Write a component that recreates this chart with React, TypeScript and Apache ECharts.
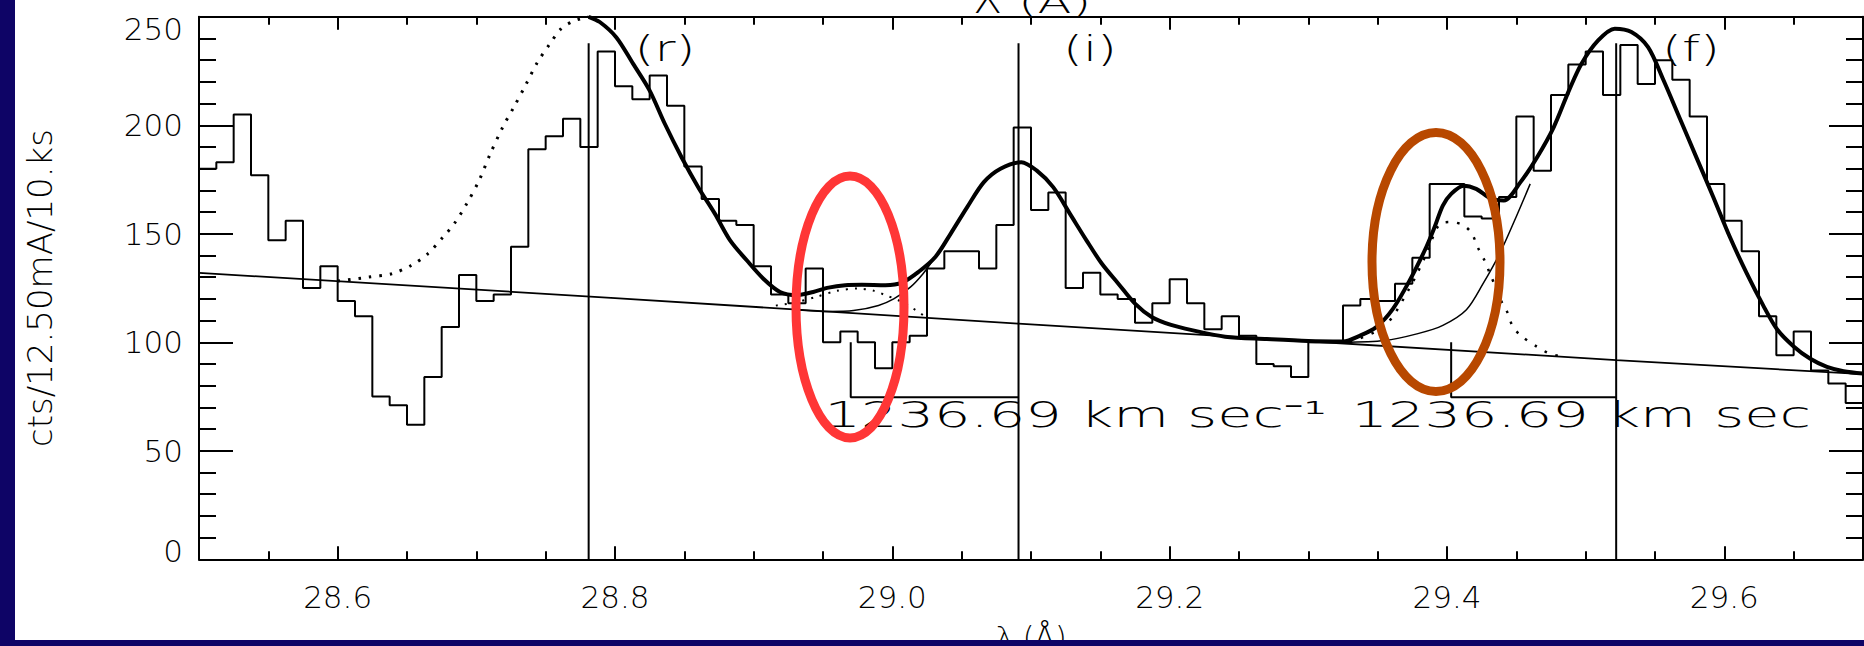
import React, { useEffect, useRef } from 'react';
import * as echarts from 'echarts';

const FONT = "'DejaVu Sans', 'Liberation Sans', sans-serif";
const LIGHT = 200;
const NAVY = '#0e0466';
const INK = '#000000';

// Histogram: 12.5 mÅ bins, first bin starts at the left edge of the axis
const BIN_START = 28.5;
const BIN_WIDTH = 0.0125;
const binCounts = [
  180, 183, 205, 177, 147, 156, 125, 135, 119, 112,
  75, 71, 62, 84, 107, 131, 119, 122, 144, 189,
  195, 203, 190, 234, 218, 212, 223, 209, 181, 166,
  156, 154, 135, 122, 118, 134, 100, 105, 100, 88,
  100, 103, 134, 142, 142, 134, 154, 199, 161, 169,
  125, 132, 122, 120, 109, 118, 129, 118, 106, 112,
  103, 90, 89, 84, 100, 100, 117, 120, 119, 127,
  139, 173, 173, 158, 157, 167, 204, 179, 214, 228,
  234, 214, 237, 219, 230, 221, 204, 173, 156, 142,
  112, 94, 105, 87, 81, 72,
];

// Continuum (thin straight line)
const continuumPoints = [
  [28.5, 132.0], [28.8, 120.4], [29.091, 108.6], [29.522, 91.8], [29.7, 85.3],
];

// Total model (thick curve)
const totalModel = [
  [28.781, 250.0], [28.789, 247.6], [28.801, 240.5], [28.813, 228.4], [28.825, 216.0],
  [28.836, 200.6], [28.848, 185.3], [28.860, 171.5], [28.872, 159.3], [28.883, 147.0],
  [28.895, 137.8], [28.907, 129.3], [28.919, 123.2], [28.931, 121.7], [28.943, 123.2],
  [28.954, 125.2], [28.966, 126.3], [28.978, 126.5], [28.995, 126.3], [29.007, 127.5],
  [29.019, 132.5], [29.031, 139.3], [29.042, 150.0], [29.054, 162.3], [29.066, 173.8],
  [29.078, 180.0], [29.093, 183.0], [29.104, 179.2], [29.116, 171.5], [29.128, 159.3],
  [29.140, 147.0], [29.151, 136.3], [29.163, 127.0], [29.175, 117.8], [29.187, 111.7],
  [29.201, 108.0], [29.216, 105.6], [29.240, 102.6], [29.270, 101.5], [29.300, 100.6],
  [29.325, 100.4], [29.337, 103.0], [29.349, 107.0], [29.361, 115.4], [29.373, 128.4],
  [29.385, 143.8], [29.391, 153.0], [29.397, 163.0], [29.403, 168.4], [29.412, 172.2],
  [29.421, 170.7], [29.432, 166.1], [29.441, 165.4], [29.453, 173.8], [29.465, 185.3],
  [29.477, 199.2], [29.488, 216.1], [29.497, 228.4], [29.509, 239.1], [29.521, 244.5],
  [29.533, 243.0], [29.545, 236.0], [29.556, 221.0], [29.568, 203.0], [29.580, 185.0],
  [29.592, 167.0], [29.604, 148.5], [29.616, 132.0], [29.628, 117.0], [29.638, 106.0],
  [29.650, 98.1], [29.662, 92.4], [29.674, 88.7], [29.686, 86.7], [29.700, 85.6],
];

// Resonance-line model outside the fitted range (dotted)
const rModelDotted = [
  [28.600, 128.2], [28.622, 130.0], [28.639, 131.6], [28.653, 135.4], [28.665, 140.8],
  [28.676, 148.5], [28.684, 154.6], [28.693, 163.8], [28.702, 174.6], [28.710, 186.8],
  [28.719, 199.1], [28.727, 208.3], [28.736, 219.1], [28.744, 229.0], [28.753, 237.5],
  [28.761, 244.4], [28.770, 248.0], [28.781, 250.0],
];

// Satellite component near 28.97 Å (dotted)
const satelliteDotted = [
  [28.916, 116.9], [28.931, 118.5], [28.945, 120.9], [28.960, 123.7], [28.975, 124.8],
  [28.987, 123.7], [28.995, 121.7], [29.004, 119.5], [29.013, 116.4], [29.022, 112.6],
];

// Intercombination-line wing (thin)
const iWingThin = [
  [28.930, 115.0], [28.954, 114.2], [28.972, 114.6], [28.990, 117.0], [29.001, 120.0],
  [29.013, 125.4], [29.022, 131.5], [29.030, 138.5],
];

// Forbidden-line wing (thin)
const fWingThin = [
  [29.325, 100.0], [29.355, 100.8], [29.379, 104.0], [29.397, 107.8], [29.414, 115.0],
  [29.426, 127.0], [29.438, 140.9], [29.450, 158.0], [29.460, 173.0],
];

// Blended component near 29.40 Å (dotted)
const blendDotted = [
  [29.330, 100.2], [29.355, 107.5], [29.373, 125.0], [29.385, 140.5], [29.395, 154.6],
  [29.403, 155.4], [29.412, 153.9], [29.418, 150.1], [29.422, 144.0], [29.427, 137.8],
  [29.431, 131.6], [29.435, 125.5], [29.440, 117.8], [29.444, 113.2], [29.447, 107.8],
  [29.453, 103.2], [29.465, 97.9], [29.474, 94.8], [29.483, 93.5],
];

// Line centres (r, i, f)
const lineCenters = [28.781, 29.091, 29.522];
const lineLabels = ['(r)', '(i)', '(f)'];
const LINE_TOP = 237.8;

// Velocity-shift brackets
const bracketStarts = [28.970, 29.403];
const bracketEnds = [29.091, 29.522];
const BRACKET_TOP = 100;
const BRACKET_LEVEL = 74.7;
const velocityTexts = ['1236.69 km sec\u207B\u00B9', '1236.69 km sec'];

const xTickLabel = (v: number) => v.toFixed(1);

function lineSeries(name: string, data: number[][], width: number, type: any = 'solid', z = 3, smooth: any = false) {
  return {
    type: 'line',
    name,
    data,
    symbol: 'none',
    showSymbol: false,
    smooth,
    silent: true,
    z,
    lineStyle: { color: INK, width, type },
    emphasis: { disabled: true },
  };
}

export default function App() {
  const ref = useRef<HTMLDivElement>(null);

  useEffect(() => {
    document.body.style.margin = '0';
    const el = ref.current;
    if (!el) return;
    const chart = echarts.init(el, null, { renderer: 'svg' });

    const histData = binCounts.map((v, k) => [BIN_START + k * BIN_WIDTH, v]);
    histData.push([BIN_START + binCounts.length * BIN_WIDTH, binCounts[binCounts.length - 1]]);

    const axisLine = { show: true, onZero: false, lineStyle: { color: INK, width: 2 } };
    const labelStyle = { fontFamily: FONT, fontSize: 31, fontWeight: LIGHT, color: INK };

    const xAxisBase = {
      type: 'value',
      min: 28.5,
      max: 29.7,
      splitNumber: 6,
      minInterval: 0.2,
      maxInterval: 0.2,
      axisLine,
      splitLine: { show: false },
      minorSplitLine: { show: false },
      axisTick: { show: true, inside: true, length: 13, lineStyle: { color: INK, width: 2 } },
      minorTick: { show: true, splitNumber: 4, length: 8, lineStyle: { color: INK, width: 2 } },
    };
    const yAxisBase = {
      type: 'value',
      min: 0,
      max: 250,
      interval: 50,
      axisLine,
      splitLine: { show: false },
      minorSplitLine: { show: false },
      axisTick: { show: true, inside: true, length: 34, lineStyle: { color: INK, width: 2 } },
      minorTick: { show: true, splitNumber: 5, length: 17, lineStyle: { color: INK, width: 2 } },
    };

    const series: any[] = [
      { ...lineSeries('counts', histData, 2, 'solid', 2), step: 'end' },
      lineSeries('continuum', continuumPoints, 1.8, 'solid', 3),
      lineSeries('i wing', iWingThin, 1.5, 'solid', 3, 0.3),
      lineSeries('f wing', fWingThin, 1.5, 'solid', 3, 0.3),
      lineSeries('r model', rModelDotted, 3, [2.5, 8], 4, 0.3),
      lineSeries('satellite', satelliteDotted, 2, [2, 7], 4, 0.3),
      lineSeries('blend', blendDotted, 2.5, [2.5, 9], 4, 0.3),
      lineSeries('total model', totalModel, 4, 'solid', 5, 0.3),
    ];
    lineCenters.forEach((x, i) => {
      series.push(lineSeries('centre ' + lineLabels[i], [[x, 0], [x, LINE_TOP]], 2, 'solid', 6));
    });
    bracketStarts.forEach((x0, i) => {
      series.push(
        lineSeries('shift ' + i, [[x0, BRACKET_TOP], [x0, BRACKET_LEVEL], [bracketEnds[i], BRACKET_LEVEL]], 2, 'solid', 6)
      );
    });

    const annoFont = (size: number) => ({ fontFamily: FONT, fontSize: size, fontWeight: LIGHT, fill: INK });

    const option: any = {
      animation: false,
      backgroundColor: '#ffffff',
      grid: { left: 184, right: 1, top: 16.8, bottom: 80.7, containLabel: false, outerBoundsMode: 'none' },
      xAxis: [
        {
          ...xAxisBase,
          position: 'bottom',
          axisLabel: {
            show: true, margin: 22, ...labelStyle,
            showMinLabel: false, showMaxLabel: false,
            formatter: xTickLabel,
          },
          name: 'λ (Å)',
          nameLocation: 'middle',
          nameGap: 78,
          nameMoveOverlap: false,
          nameTextStyle: { fontFamily: FONT, fontSize: 30, fontWeight: LIGHT, color: INK, verticalAlign: 'middle' },
        },
        { ...xAxisBase, position: 'top', axisLabel: { show: false } },
      ],
      yAxis: [
        {
          ...yAxisBase,
          position: 'left',
          axisLabel: {
            show: true, margin: 16, ...labelStyle,
            formatter: (v: number) => (v === 0 ? '{lo|0}' : v === 250 ? '{hi|250}' : String(v)),
            rich: {
              lo: { ...labelStyle, padding: [0, 0, 16, 0] },
              hi: { ...labelStyle, padding: [24, 0, 0, 0] },
            },
          },
          name: 'cts/12.50mA/10.ks',
          nameLocation: 'middle',
          nameRotate: 90,
          nameGap: 142,
          nameMoveOverlap: false,
          nameTextStyle: { fontFamily: FONT, fontSize: 34, fontWeight: LIGHT, color: INK },
        },
        { ...yAxisBase, position: 'right', axisLabel: { show: false } },
      ],
      series,
      graphic: [
        { type: 'ellipse', shape: { cx: 835, cy: 307, rx: 54, ry: 131 }, style: { fill: 'none', stroke: '#ff3636', lineWidth: 9 }, z: 100, silent: true },
        { type: 'ellipse', shape: { cx: 1421, cy: 262, rx: 64, ry: 129.5 }, style: { fill: 'none', stroke: '#b84800', lineWidth: 9 }, z: 100, silent: true },
        { type: 'text', x: 650, y: 49, scaleX: 1.46, style: { ...annoFont(35), text: lineLabels[0], align: 'center', verticalAlign: 'middle' }, z: 50, silent: true },
        { type: 'text', x: 1075, y: 49, scaleX: 1.46, style: { ...annoFont(35), text: lineLabels[1], align: 'center', verticalAlign: 'middle' }, z: 50, silent: true },
        { type: 'text', x: 1676, y: 49, scaleX: 1.46, style: { ...annoFont(35), text: lineLabels[2], align: 'center', verticalAlign: 'middle' }, z: 50, silent: true },
        { type: 'text', x: 809.5, y: 415, scaleX: 1.64, style: { ...annoFont(35), text: velocityTexts[0], align: 'left', verticalAlign: 'middle' }, z: 50, silent: true },
        { type: 'text', x: 1336.4, y: 415, scaleX: 1.64, style: { ...annoFont(35), text: velocityTexts[1], align: 'left', verticalAlign: 'middle' }, z: 50, silent: true },
        { type: 'text', x: 1017, y: 3, scaleX: 1.66, style: { ...annoFont(30), text: 'λ (Å)', align: 'center', verticalAlign: 'middle' }, z: 50, silent: true },
      ],
    };

    chart.setOption(option);
    return () => chart.dispose();
  }, []);

  return (
    <div style={{ position: 'absolute', left: 0, top: 0, width: 1864, height: 646, background: NAVY, overflow: 'hidden' }}>
      <div ref={ref} style={{ position: 'absolute', left: 15, top: 0, width: 1849, height: 640, background: '#ffffff' }} />
    </div>
  );
}
